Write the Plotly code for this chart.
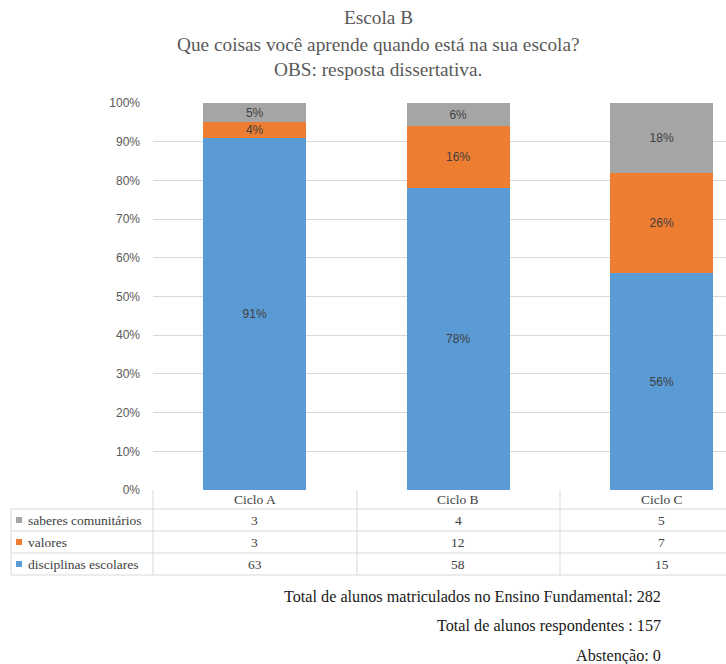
import plotly.graph_objects as go

# Cycles (categories)
ciclos = ["Ciclo A", "Ciclo B", "Ciclo C"]

# Response counts per category (shown in the data table)
contagem_disciplinas = [63, 58, 15]
contagem_valores = [3, 12, 7]
contagem_saberes = [3, 4, 5]

# Percent share per cycle (stacked bar heights and labels)
pct_disciplinas = [91, 78, 56]
pct_valores = [4, 16, 26]
pct_saberes = [5, 6, 18]

cores = {
    "disciplinas escolares": "#5B9BD5",
    "valores": "#ED7D31",
    "saberes comunitários": "#A5A5A5",
}

y_ticks = [0, 10, 20, 30, 40, 50, 60, 70, 80, 90, 100]

titulo = [
    "Escola B",
    "Que coisas você aprende quando está na sua escola?",
    "OBS: resposta dissertativa.",
]

rodape = [
    "Total de alunos matriculados no Ensino Fundamental: 282",
    "Total de alunos respondentes : 157",
    "Abstenção: 0",
]

W, H = 726, 664
ML, MR, MT, MB = 153, 0, 103, 174
PW, PH = W - ML - MR, H - MT - MB


def px_x(x):
    return (x - ML) / PW


def px_y(y):
    return (H - MB - y) / PH


SERIF = "Liberation Serif"
SANS = "Liberation Sans"
TXT = "#404040"

fig = go.Figure()
for nome, vals in [
    ("disciplinas escolares", pct_disciplinas),
    ("valores", pct_valores),
    ("saberes comunitários", pct_saberes),
]:
    fig.add_trace(go.Bar(
        x=ciclos, y=vals, name=nome, width=0.505,
        marker=dict(color=cores[nome], line=dict(width=0)),
        text=[f"{v}%" for v in vals], textposition="inside",
        insidetextanchor="middle", constraintext="none",
        textfont=dict(family=SANS, size=12, color=TXT),
        showlegend=False, hoverinfo="skip",
    ))

shapes = []
annotations = []
grid = "#D9D9D9"


def text_at(x, xref, y_px, txt, size, family=SERIF, color=TXT, xanchor="center"):
    annotations.append(dict(x=x, xref=xref, y=px_y(y_px), yref="paper",
                            text=txt, showarrow=False,
                            xanchor=xanchor, yanchor="middle",
                            font=dict(family=family, size=size, color=color)))


# Data table grid
ys_rows = [490, 509, 531, 553, 575]
for xe in [153, 357, 560]:
    shapes.append(dict(type="line", xref="paper", yref="paper",
                       x0=px_x(xe), x1=px_x(xe), y0=px_y(490), y1=px_y(575),
                       line=dict(color=grid, width=1)))
shapes.append(dict(type="line", xref="paper", yref="paper",
                   x0=px_x(11), x1=px_x(11), y0=px_y(509), y1=px_y(575),
                   line=dict(color=grid, width=1)))
for yr in ys_rows[1:]:
    shapes.append(dict(type="line", xref="paper", yref="paper",
                       x0=px_x(11), x1=px_x(W), y0=px_y(yr), y1=px_y(yr),
                       line=dict(color=grid, width=1)))

# Header row
for c in ciclos:
    text_at(c, "x", 499.5, c, 13.5)

# Body rows with legend keys
linhas = [
    ("saberes comunitários", contagem_saberes),
    ("valores", contagem_valores),
    ("disciplinas escolares", contagem_disciplinas),
]
for i, (nome, vals) in enumerate(linhas):
    yc = (ys_rows[i + 1] + ys_rows[i + 2]) / 2
    shapes.append(dict(type="rect", xref="paper", yref="paper",
                       x0=px_x(16), x1=px_x(22), y0=px_y(yc - 3), y1=px_y(yc + 3),
                       fillcolor=cores[nome], line=dict(width=0)))
    text_at(px_x(26), "paper", yc, nome, 13.5, xanchor="left")
    for c, v in zip(ciclos, vals):
        text_at(c, "x", yc, str(v), 13.5)

# Title
for txt, yy in zip(titulo, [18, 44, 69]):
    text_at(px_x(378), "paper", yy, txt, 19.3, color="#595959")

# Footer notes
for txt, yy in zip(rodape, [597, 626, 656]):
    text_at(px_x(663), "paper", yy, txt, 16.2, color="#1A1A1A", xanchor="right")

fig.update_layout(
    barmode="stack",
    width=W, height=H,
    margin=dict(l=ML, r=MR, t=MT, b=MB, pad=0),
    paper_bgcolor="white", plot_bgcolor="white",
    xaxis=dict(range=[-0.5, -0.5 + PW / 203.5], showticklabels=False,
               showgrid=False, zeroline=False, showline=False, fixedrange=True),
    yaxis=dict(range=[0, 100], tickvals=y_ticks,
               ticktext=[f"{t}%" for t in y_ticks],
               showgrid=True, gridcolor=grid, gridwidth=1,
               zeroline=False, showline=False, ticks="",
               ticklabelstandoff=12,
               tickfont=dict(family=SANS, size=12, color="#595959")),
    shapes=shapes,
    annotations=annotations,
)

fig.write_html("out.html")
